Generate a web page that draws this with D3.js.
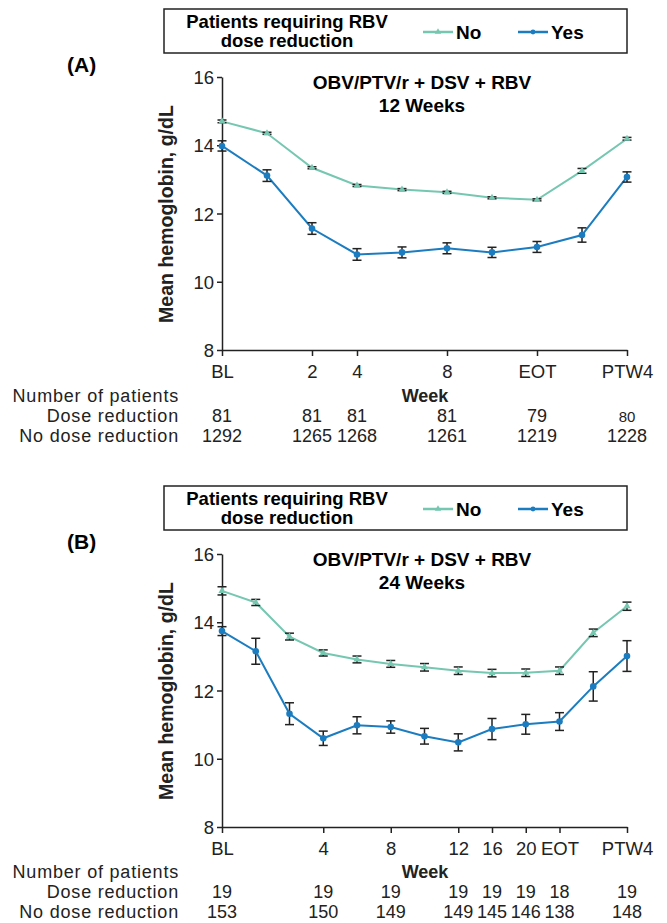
<!DOCTYPE html>
<html>
<head>
<meta charset="utf-8">
<script src="https://cdn.jsdelivr.net/npm/d3@7"></script>
<style>
  body { margin: 0; background: #fff; }
  svg { display: block; font-family: "Liberation Sans", Arial, sans-serif; }
</style>
</head>
<body>
<svg id="chart" width="667" height="923"></svg>
<script>
/* ---- data: panel A (12 weeks) ---- */
const weeksA = ["BL", "1", "2", "4", "6", "8", "10", "EOT", "PTW2", "PTW4"];
const tickWeeksA = ["BL", "2", "4", "8", "EOT", "PTW4"];
const noMeanA = [14.7, 14.35, 13.34, 12.82, 12.7, 12.62, 12.46, 12.4, 13.25, 14.19];
const noErrA = [0.04, 0.03, 0.03, 0.03, 0.03, 0.03, 0.03, 0.03, 0.07, 0.04];
const yesMeanA = [13.98, 13.11, 11.56, 10.8, 10.86, 10.98, 10.86, 11.02, 11.37, 13.07];
const yesErrA = [0.15, 0.17, 0.17, 0.17, 0.16, 0.16, 0.15, 0.16, 0.21, 0.15];
const doseRedA = ["81", "81", "81", "81", "79", "80"];
const noDoseRedA = ["1292", "1265", "1268", "1261", "1219", "1228"];

/* ---- data: panel B (24 weeks) ---- */
const weeksB = ["BL", "1", "2", "4", "6", "8", "10", "12", "16", "20", "EOT", "PTW2", "PTW4"];
const tickWeeksB = ["BL", "4", "8", "12", "16", "20", "EOT", "PTW4"];
const noMeanB = [14.92, 14.58, 13.58, 13.1, 12.91, 12.78, 12.68, 12.58, 12.51, 12.52, 12.58, 13.69, 14.47];
const noErrB = [0.12, 0.09, 0.1, 0.09, 0.1, 0.1, 0.11, 0.11, 0.11, 0.11, 0.11, 0.11, 0.12];
const yesMeanB = [13.74, 13.15, 11.32, 10.6, 10.98, 10.93, 10.66, 10.48, 10.87, 11.01, 11.09, 12.12, 13.01];
const yesErrB = [0.13, 0.38, 0.32, 0.21, 0.25, 0.18, 0.23, 0.25, 0.31, 0.29, 0.26, 0.43, 0.45];
const doseRedB = ["19", "19", "19", "19", "19", "19", "18", "19"];
const noDoseRedB = ["153", "150", "149", "149", "145", "146", "138", "148"];

const yTicks = [8, 10, 12, 14, 16];
const colorNo = "#76c7b0";
const colorYes = "#1b7dc0";
const inkColor = "#222";

const svg = d3.select("#chart");

/* draw one panel, shift = vertical offset of the whole panel */
function drawPanel(opts) {
  const g = svg.append("g");
  const x = d3.scalePoint().domain(opts.weeks).range([222, 627]);
  const y = d3.scaleLinear().domain([8, 16]).range([350 + opts.shift, 77 + opts.shift]);

  // panel letter
  g.append("text")
    .attr("x", 67).attr("y", 72 + opts.shift)
    .attr("font-size", 21).attr("font-weight", "bold")
    .text(opts.letter);

  // legend box
  g.append("rect")
    .attr("x", 164).attr("y", 9 + opts.shift).attr("width", 463).attr("height", 44)
    .attr("fill", "none").attr("stroke", inkColor).attr("stroke-width", 1.5);
  const legTitle = g.append("text")
    .attr("text-anchor", "middle").attr("font-size", 18.5).attr("font-weight", "bold");
  legTitle.append("tspan").attr("x", 287).attr("y", 28 + opts.shift).text("Patients requiring RBV");
  legTitle.append("tspan").attr("x", 287).attr("y", 47 + opts.shift).text("dose reduction");

  const legItems = [
    { label: "No", color: colorNo, x0: 423, shape: d3.symbolTriangle },
    { label: "Yes", color: colorYes, x0: 518, shape: d3.symbolCircle },
  ];
  const legY = 32 + opts.shift;
  legItems.forEach((it) => {
    g.append("line")
      .attr("x1", it.x0).attr("x2", it.x0 + 30).attr("y1", legY).attr("y2", legY)
      .attr("stroke", it.color).attr("stroke-width", 2.5);
    g.append("path")
      .attr("d", d3.symbol(it.shape, 18)())
      .attr("transform", `translate(${it.x0 + 15},${legY})`)
      .attr("fill", it.color);
    g.append("text")
      .attr("x", it.x0 + 33).attr("y", legY + 6.5)
      .attr("font-size", 19).attr("font-weight", "bold")
      .text(it.label);
  });

  // chart title
  const title = g.append("text")
    .attr("text-anchor", "middle").attr("font-size", 19).attr("font-weight", "bold");
  title.append("tspan").attr("x", 422).attr("y", 89 + opts.shift).text("OBV/PTV/r + DSV + RBV");
  title.append("tspan").attr("x", 422).attr("y", 112 + opts.shift).text(opts.subtitle);

  // axes
  const yAxis = g.append("g")
    .attr("transform", "translate(222,0)")
    .call(d3.axisLeft(y).tickValues(yTicks).tickSize(5).tickSizeOuter(0).tickPadding(3));
  const xAxis = g.append("g")
    .attr("transform", `translate(0,${y(8)})`)
    .call(d3.axisBottom(x).tickValues(opts.tickWeeks).tickSize(6).tickSizeOuter(0).tickPadding(9));
  [yAxis, xAxis].forEach((ax) => {
    ax.select(".domain").attr("stroke", inkColor).attr("stroke-width", 1.5);
    ax.selectAll(".tick line").attr("stroke", inkColor).attr("stroke-width", 1.5);
    ax.selectAll(".tick text")
      .attr("fill", inkColor).attr("font-size", 18.5)
      .attr("font-family", "Liberation Sans, Arial, sans-serif");
  });
  xAxis.selectAll(".tick text").attr("dy", "0.71em");
  yAxis.selectAll(".tick text").attr("dy", "0.36em");

  // y label
  g.append("text")
    .attr("transform", `translate(173,${214 + opts.shift}) rotate(-90)`)
    .attr("text-anchor", "middle").attr("font-size", 19.5).attr("font-weight", "bold")
    .attr("fill", inkColor)
    .text("Mean hemoglobin, g/dL");

  // series
  const series = [
    { mean: opts.noMean, err: opts.noErr, color: colorNo, shape: d3.symbolTriangle, size: 22 },
    { mean: opts.yesMean, err: opts.yesErr, color: colorYes, shape: d3.symbolCircle, size: 34 },
  ];
  const line = d3.line().x((d) => x(d.week)).y((d) => y(d.v));
  series.forEach((s) => {
    const pts = opts.weeks.map((w, i) => ({ week: w, v: s.mean[i], e: s.err[i] }));
    g.append("path")
      .datum(pts)
      .attr("d", line)
      .attr("fill", "none").attr("stroke", s.color).attr("stroke-width", 2);
    const eb = g.append("g").selectAll("g").data(pts).join("g")
      .attr("stroke", inkColor).attr("stroke-width", 1.5);
    eb.append("line")
      .attr("x1", (d) => x(d.week)).attr("x2", (d) => x(d.week))
      .attr("y1", (d) => y(d.v - d.e)).attr("y2", (d) => y(d.v + d.e));
    [-1, 1].forEach((sgn) => {
      eb.append("line")
        .attr("x1", (d) => x(d.week) - 4.5).attr("x2", (d) => x(d.week) + 4.5)
        .attr("y1", (d) => y(d.v + sgn * d.e)).attr("y2", (d) => y(d.v + sgn * d.e));
    });
    g.append("g").selectAll("path").data(pts).join("path")
      .attr("d", d3.symbol(s.shape, s.size)())
      .attr("transform", (d) => `translate(${x(d.week)},${y(d.v)})`)
      .attr("fill", s.color);
  });

  // number of patients table (rows sit a touch tighter in panel B)
  const rowY = [402, 422.2, 442.4].map((v) => v + opts.tableShift);
  g.append("text")
    .attr("x", 425).attr("y", rowY[0])
    .attr("text-anchor", "middle").attr("font-size", 18).attr("font-weight", "bold")
    .attr("fill", inkColor)
    .text("Week");
  const rowLabels = ["Number of patients", "Dose reduction", "No dose reduction"];
  rowLabels.forEach((lab, i) => {
    g.append("text")
      .attr("x", 179).attr("y", rowY[i])
      .attr("text-anchor", "end").attr("font-size", 18)
      .attr("letter-spacing", 0.8)
      .attr("fill", inkColor)
      .text(lab);
  });
  const rows = [opts.doseRed, opts.noDoseRed];
  rows.forEach((vals, r) => {
    g.append("g").selectAll("text").data(vals).join("text")
      .attr("x", (d, i) => x(opts.tickWeeks[i]))
      .attr("y", rowY[r + 1])
      .attr("text-anchor", "middle")
      .attr("font-size", (d, i) => (opts.smallCells && opts.smallCells[r] === i ? 15 : 18))
      .attr("fill", inkColor)
      .text((d) => d);
  });
}

drawPanel({
  shift: 0,
  tableShift: 0,
  letter: "(A)",
  subtitle: "12 Weeks",
  weeks: weeksA,
  tickWeeks: tickWeeksA,
  noMean: noMeanA, noErr: noErrA,
  yesMean: yesMeanA, yesErr: yesErrA,
  doseRed: doseRedA, noDoseRed: noDoseRedA,
  smallCells: [5, -1], // the "80" is printed smaller in the source
});

drawPanel({
  shift: 477,
  tableShift: 476,
  letter: "(B)",
  subtitle: "24 Weeks",
  weeks: weeksB,
  tickWeeks: tickWeeksB,
  noMean: noMeanB, noErr: noErrB,
  yesMean: yesMeanB, yesErr: yesErrB,
  doseRed: doseRedB, noDoseRed: noDoseRedB,
});
</script>
</body>
</html>
